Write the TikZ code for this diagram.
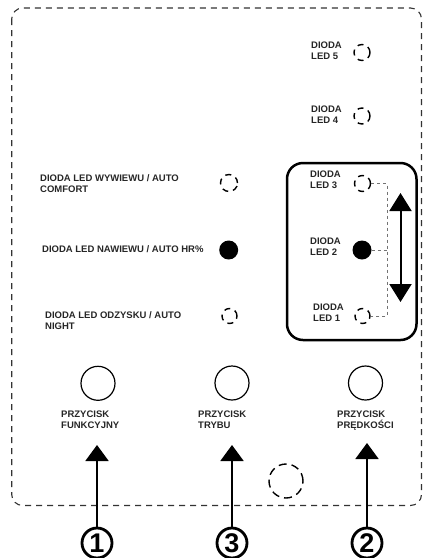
\documentclass[tikz,border=0pt]{standalone}
\usepackage{fontspec}
\setmainfont{Liberation Sans}
\usetikzlibrary{arrows.meta}
\tikzset{
  lbl/.style={inner sep=0pt, anchor=north west, align=left, text=black!85,
    font=\fontsize{9.5}{11}\selectfont\bfseries},
  ledoff/.style={circle, draw, line width=1.4pt, dash pattern=on 6pt off 5pt, inner sep=0pt},
  ledon/.style={circle, fill=black, inner sep=0pt, minimum size=19pt},
  btn/.style={circle, draw, line width=1.2pt, inner sep=0pt, minimum size=34pt},
  numc/.style={circle, draw, line width=2.8pt, inner sep=0pt, minimum size=30pt,
    font=\fontsize{27}{27}\selectfont\bfseries},
  uparrow/.style={line width=2pt, -{Triangle[width=23pt,length=16pt]}},
  dblarrow/.style={line width=2pt, {Triangle[width=22pt,length=18pt]}-{Triangle[width=22pt,length=18pt]}},
  link/.style={draw=black!55, line width=0.8pt, dash pattern=on 3pt off 3pt},
}
\begin{document}
\begin{tikzpicture}[x=1pt,y=-1pt]
\useasboundingbox (0,0) rectangle (426,558);
% outer dashed frame
\draw[black!80, line width=1.1pt, dash pattern=on 6pt off 5pt, rounded corners=11pt]
  (11.7,8) rectangle (421.5,505.5);
% solid box
\draw[line width=2.5pt, rounded corners=16pt] (287,163) rectangle (416.5,340);

% right LEDs
\node[ledoff, minimum size=16pt] (l5) at (362,52.5) {};
\node[ledoff, minimum size=16pt] (l4) at (362,116) {};
\node[ledoff, minimum size=16pt] (l3) at (362.5,183.5) {};
\node[ledon] (l2) at (362,250) {};
\node[ledoff, minimum size=15pt] (l1) at (362.5,316) {};
\node[lbl] (t5) at (311,41.5) {DIODA\\LED 5};
\node[lbl] (t4) at (311,106) {DIODA\\LED 4};
\node[lbl] (t3) at (310,171) {DIODA\\LED 3};
\node[lbl] (t2) at (310,238) {DIODA\\LED 2};
\node[lbl] (t1) at (313,304) {DIODA\\LED 1};

% dashed link
\coordinate (k3) at (387,183.5);
\coordinate (k2) at (387,250);
\coordinate (k1) at (387,316);
\draw[link] (l3.east) -- (k3) -- (k1) -- (l1.east);
\draw[link] (l2.east) -- (k2);

% double arrow
\coordinate (dt) at (400.5,193);
\coordinate (db) at (400.5,302);
\draw[dblarrow] (dt) -- (db);

% left LEDs
\node[ledoff, minimum size=17pt] (lw) at (229,183) {};
\node[ledon] (ln) at (228.7,250) {};
\node[ledoff, minimum size=15pt] (lo) at (229.5,316) {};
\node[lbl] (tw) at (40,174) {DIODA LED WYWIEWU / AUTO\\COMFORT};
\node[lbl] (tn) at (42,245) {DIODA LED NAWIEWU / AUTO HR\%};
\node[lbl] (to) at (45,311.5) {DIODA LED ODZYSKU / AUTO\\NIGHT};

% buttons
\node[btn] (b1) at (98,383.3) {};
\node[btn] (b3) at (232,383) {};
\node[btn] (b2) at (365.5,383) {};
\node[lbl] (tb1) at (61,411) {PRZYCISK\\FUNKCYJNY};
\node[lbl] (tb3) at (198,411) {PRZYCISK\\TRYBU};
\node[lbl] (tb2) at (337,411) {PRZYCISK\\PRĘDKOŚCI};

% dashed round mark
\node[circle, draw, line width=1.4pt, dash pattern=on 8pt off 5pt, inner sep=0pt, minimum size=34pt] (dc) at (286,481) {};

% numbered callouts
\node[numc] (n1) at (97,543) {1};
\node[numc] (n3) at (232,543) {3};
\node[numc] (n2) at (367,543) {2};
\coordinate (a1) at (97,445);
\coordinate (a3) at (232,445);
\coordinate (a2) at (367,443);
\draw[uparrow] (n1.north) -- (a1);
\draw[uparrow] (n3.north) -- (a3);
\draw[uparrow] (n2.north) -- (a2);
\end{tikzpicture}
\end{document}
